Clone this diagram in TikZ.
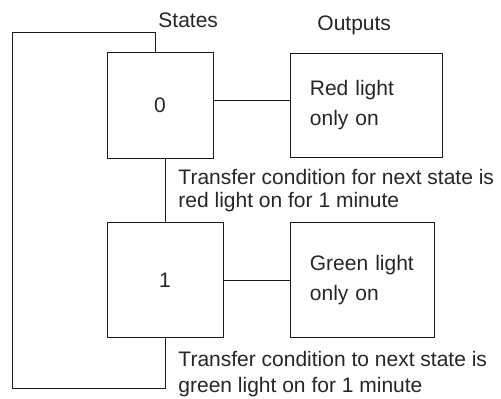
\documentclass[tikz,border=0pt]{standalone}
\usepackage{fontspec}
\setmainfont{Liberation Sans}
\usetikzlibrary{positioning, calc}

\begin{document}
\begin{tikzpicture}[
	x=1bp, y=-1bp, % picture units follow the drawing
	line width=0.9bp,
	node distance=64bp and 77bp,
	% Style for the state boxes
	statebox/.style={
		rectangle,
		draw=black!90,
		text=black!85,
		font=\fontsize{21bp}{23bp}\selectfont
	},
	% Style for the output boxes
	outbox/.style={
		rectangle,
		draw=black!90,
		text=black!85,
		align=left,
		inner xsep=19bp,
		font=\fontsize{21bp}{30bp}\selectfont
	},
	% Style for free text (anchored on its last line)
	caption/.style={
		inner sep=0pt,
		anchor=base west,
		align=left,
		text=black!85,
		font=\fontsize{21bp}{23bp}\selectfont
	},
	% Style for the connecting lines
	wire/.style={draw=black!90}
	]
	\useasboundingbox (0,0) rectangle (501,398);
	
	% --- NODES (STATES) ---
	\node[statebox, minimum width=106bp, minimum height=106bp] (S0) at (160,105) {0};
	\node[statebox, minimum width=116bp, minimum height=115bp, below=64bp of S0, xshift=5bp] (S1) {1};
	
	% --- NODES (OUTPUTS) ---
	\node[outbox, text width=114bp, minimum height=104bp, right=77bp of S0] (O0) {Red light\\only on};
	\node[outbox, text width=106bp, minimum height=115bp, right=67bp of S1] (O1) {Green light\\only on};
	
	% --- HEADINGS AND CONDITIONS ---
	\node[caption] (statesLbl) at (158,27) {States};
	\node[caption] (outputsLbl) at (317,30) {Outputs};
	\node[caption] (cond01) at (178,207) {Transfer condition for next state is\\red light on for 1 minute};
	\node[caption, font=\fontsize{21bp}{26bp}\selectfont] (cond10) at (178,392) {Transfer condition to next state is\\green light on for 1 minute};
	
	% --- LINES ---
	\draw[wire] ([yshift=5bp]S0.east) -- ([yshift=5bp]S0.east -| O0.west);
	\draw[wire] (S1.east) -- (S1.east -| O1.west);
	\draw[wire] (S1.north |- S0.south) -- (S1.north);
	
	% Return loop from state 1 back to state 0
	\coordinate (loopBL) at (12,388);
	\coordinate (loopTL) at (12,32);
	\draw[wire] (S1.south) |- (loopBL) -- (loopTL) -| ([xshift=-5bp]S0.north);
	
\end{tikzpicture}
\end{document}
